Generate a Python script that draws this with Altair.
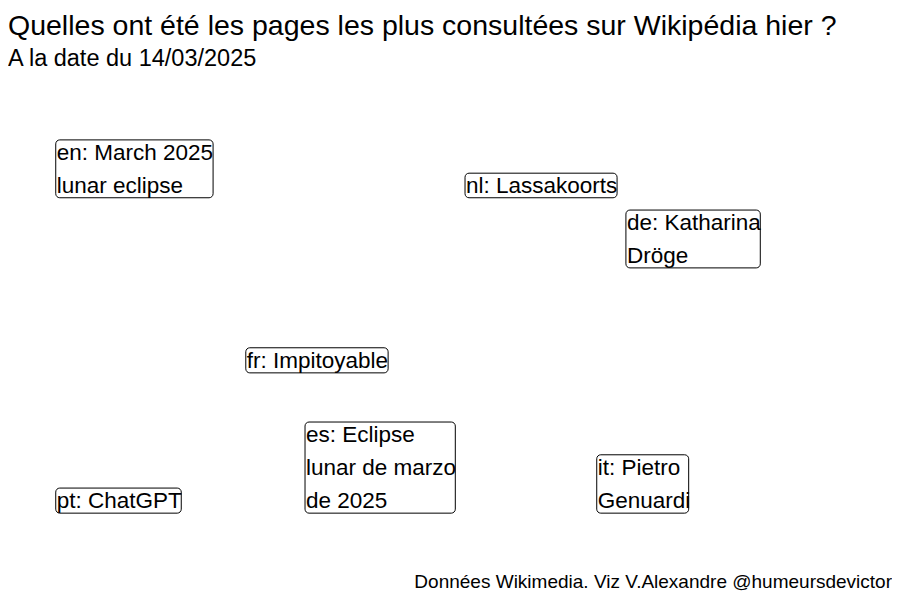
import altair as alt
import pandas as pd

title = "Quelles ont été les pages les plus consultées sur Wikipédia hier ?"
subtitle = "A la date du 14/03/2025"
caption = "Données Wikimedia. Viz V.Alexandre @humeursdevictor"

langs = ["en", "nl", "de", "fr", "es", "pt", "it"]
pages = [
    ["March 2025", "lunar eclipse"],
    ["Lassakoorts"],
    ["Katharina", "Dröge"],
    ["Impitoyable"],
    ["Eclipse", "lunar de marzo", "de 2025"],
    ["ChatGPT"],
    ["Pietro", "Genuardi"],
]
# label anchor (bottom-left) in data units
x_pos = [5.4, 51.7, 69.9, 26.9, 33.6, 5.4, 66.6]
y_pos = [77.0, 77.0, 63.3, 42.8, 15.4, 15.4, 15.4]
# label box extents in data units
box_right = [23.2, 68.9, 85.1, 43.0, 50.6, 19.6, 77.0]
box_top = [88.3, 81.8, 74.6, 47.7, 33.2, 20.3, 26.8]

labels = []
for lg, p in zip(langs, pages):
    first = f"{lg}: {p[0]}"
    labels.append("\n".join([first] + p[1:]))

df = pd.DataFrame({
    "label": labels,
    "x": x_pos,
    "y": y_pos,
    "x2": box_right,
    "y2": box_top,
})

W, H = 884, 512
FONT = "Liberation Sans"

xs = alt.Scale(domain=[0, 100], nice=False, zero=False)
ys = alt.Scale(domain=[0, 100], nice=False, zero=False)

base = alt.Chart(df)

boxes = base.mark_rect(
    fill="white", stroke="black", strokeWidth=1, cornerRadius=4
).encode(
    x=alt.X("x:Q", scale=xs, axis=None),
    x2="x2:Q",
    y=alt.Y("y:Q", scale=ys, axis=None),
    y2="y2:Q",
)

texts = base.mark_text(
    align="left", baseline="top", lineBreak="\n", lineHeight=33,
    fontSize=22.5, font=FONT, color="black", dx=1, dy=2,
).encode(
    x=alt.X("x:Q", scale=xs, axis=None),
    y=alt.Y("y2:Q", scale=ys, axis=None),
    text="label:N",
)

cap = alt.Chart(pd.DataFrame({"t": [caption]})).mark_text(
    align="right", baseline="alphabetic", fontSize=19, font=FONT, color="black",
).encode(
    x=alt.value(W), y=alt.value(H - 4), text="t:N"
)

chart = alt.layer(boxes, texts, cap).properties(
    width=W, height=H,
    title=alt.TitleParams(
        text=title, subtitle=subtitle, anchor="start", frame="group",
        font=FONT, fontSize=28.5, fontWeight="normal", color="black",
        subtitleFont=FONT, subtitleFontSize=23.5, subtitleColor="black",
        subtitlePadding=6, offset=10,
    ),
    view=alt.ViewBackground(stroke="transparent", strokeWidth=0),
    autosize=alt.AutoSizeParams(type="none"),
    padding={"top": 72, "left": 0, "right": 0, "bottom": 0},
).configure(
    background="white",
    view=alt.ViewConfig(stroke="transparent", strokeWidth=0),
    style={"cell": {"stroke": "transparent", "strokeWidth": 0}},
    axis=alt.AxisConfig(domain=False, grid=False, ticks=False, labels=False),
)

chart.save("out.html", embed_options={"renderer": "svg", "actions": False})
